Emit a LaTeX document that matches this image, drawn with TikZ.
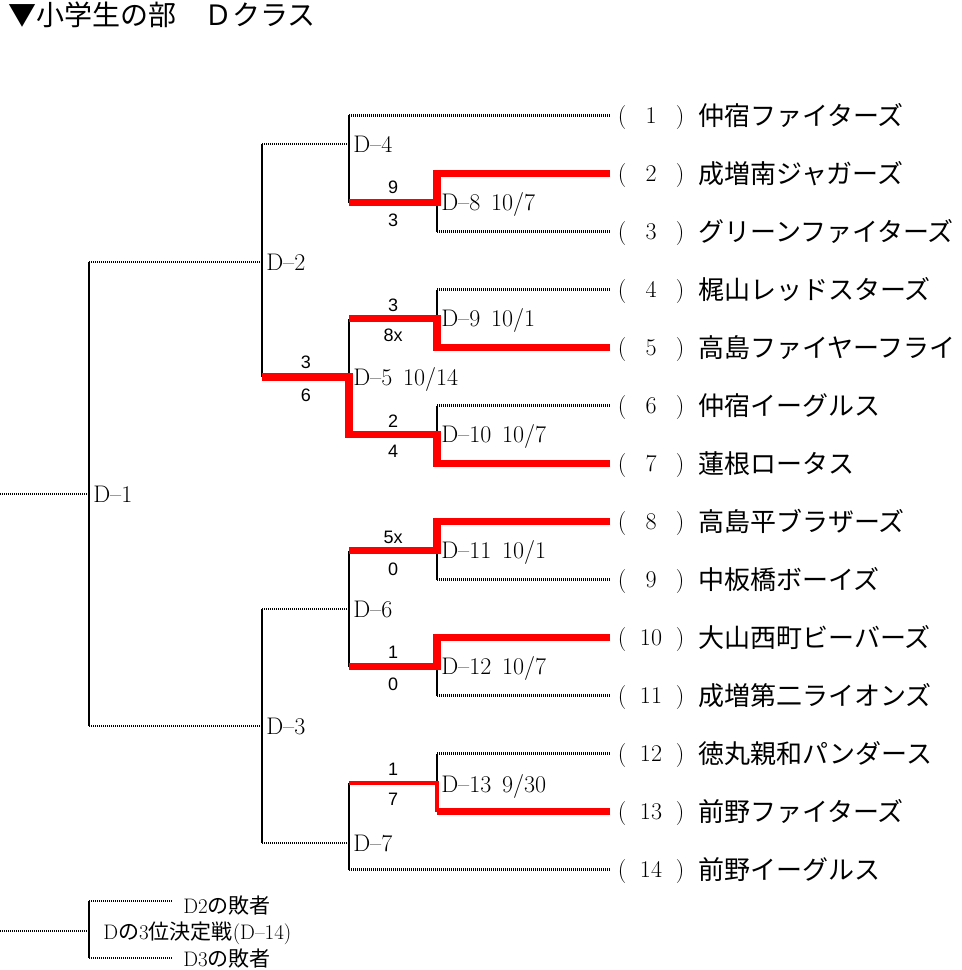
\documentclass[tikz,border=0pt]{standalone}
\usepackage{fontspec}
\newfontfamily\jp{Noto Sans CJK JP}
\newfontfamily\scorefont{Liberation Sans}
\begin{document}
\begin{tikzpicture}[x=0.75pt,y=-0.75pt,
  dots/.style={line width=1.6pt, dash pattern=on 1pt off 0.5pt, black},
  bar/.style={line width=2pt, black},
  win/.style={line width=5.4pt, red, line join=miter},
  winthin/.style={line width=3pt, red, line join=miter},
  dlab/.style={anchor=base west, yshift=-6.1pt, font=\fontsize{18}{20}\selectfont, inner sep=0pt},
  score/.style={font=\scorefont\fontsize{13.5}{15}\selectfont, inner sep=0pt},
  tname/.style={anchor=base west, yshift=-7.4pt, font=\jp\fontsize{19.5}{22}\selectfont, inner sep=0pt},
  tnum/.style={anchor=base, yshift=-5.9pt, font=\fontsize{18}{20}\selectfont, inner sep=0pt},
  small/.style={anchor=base west, yshift=-6pt, font=\fontsize{15.75}{18}\selectfont, inner sep=0pt},
]
\useasboundingbox (0,0) rectangle (961,970);

% title
\node[anchor=base west, yshift=-8pt, font=\jp\fontsize{21}{24}\selectfont, inner sep=0pt] (title) at (8,15) {▼小学生の部　Ｄクラス};

% team rows
\foreach \i/\nm in {1/仲宿ファイターズ, 2/成増南ジャガーズ, 3/グリーンファイターズ, 4/梶山レッドスターズ, 5/高島ファイヤーフライ, 6/仲宿イーグルス, 7/蓮根ロータス, 8/高島平ブラザーズ, 9/中板橋ボーイズ, 10/大山西町ビーバーズ, 11/成増第二ライオンズ, 12/徳丸親和パンダース, 13/前野ファイターズ, 14/前野イーグルス} {
  \pgfmathsetmacro{\yy}{57.5+58*\i}
  \coordinate (t\i) at (610,\yy);
  \coordinate (s\i) at (437,\yy);
  \node[tnum] (p\i) at (622,\yy) {(};
  \node[tnum] (n\i) at (651,\yy) {\i};
  \node[tnum] (q\i) at (680,\yy) {)};
  \node[tname] (name\i) at (698,\yy) {\nm};
}
\coordinate (s1) at (349,115.5);
\coordinate (s14) at (349,869.5);

% round-2 junctions
\foreach \k/\yy in {8/202.5, 9/318.5, 10/434.5, 11/550.5, 12/666.5, 13/782.5} {
  \coordinate (m\k) at (437,\yy);
  \coordinate (l\k) at (349,\yy);
}
% round-3 and later junctions
\coordinate (j4) at (349,144);   \coordinate (k4) at (262,144);
\coordinate (j5) at (349,377);   \coordinate (k5) at (262,377);
\coordinate (j6) at (349,609);   \coordinate (k6) at (262,609);
\coordinate (j7) at (349,843);   \coordinate (k7) at (262,843);
\coordinate (j2) at (262,262);   \coordinate (k2) at (89,262);
\coordinate (j3) at (262,726);   \coordinate (k3) at (89,726);
\coordinate (j1) at (89,494);    \coordinate (e1) at (0,494);

% dotted lines
\foreach \i in {1,3,4,6,9,11,12,14} { \draw[dots] (s\i) -- (t\i); }
\draw[dots] (j4) -- (k4);
\draw[dots] (j6) -- (k6);
\draw[dots] (j7) -- (k7);
\draw[dots] (j2) -- (k2);
\draw[dots] (j3) -- (k3);
\draw[dots] (j1) -- (e1);

% black verticals
\draw[bar] (s1) -- (l8);
\draw[bar] (m8) -- (s3);
\draw[bar] (s4) -- (m9);
\draw[bar] (l9) -- (j5);
\draw[bar] (s6) -- (m10);
\draw[bar] (m11) -- (s9);
\draw[bar] (l11) -- (l12);
\draw[bar] (m12) -- (s11);
\draw[bar] (s12) -- (m13);
\draw[bar] (l13) -- (s14);
\draw[bar] (k4) -- (k5);
\draw[bar] (k6) -- (k7);
\draw[bar] (k2) -- (k3);

% winners
\draw[win] (t2) -- (s2) -- (m8) -- (l8);
\draw[win] (t5) -- (s5) -- (m9) -- (l9);
\draw[win] (t7) -- (s7) -- (m10) -- (l10) -- (j5) -- (k5);
\draw[win] (t8) -- (s8) -- (m11) -- (l11);
\draw[win] (t10) -- (s10) -- (m12) -- (l12);
\draw[win] (t13) -- (s13);
\draw[winthin] (s13) -- (m13) -- (l13);

% match labels
\node[dlab] (d4) at (353,144) {D–4};
\node[dlab] (d8) at (441,202.5) {D–8\hspace{0.45em}10/7};
\node[dlab] (d2) at (266,262) {D–2};
\node[dlab] (d9) at (441,318.5) {D–9\hspace{0.45em}10/1};
\node[dlab] (d5) at (353,377) {D–5\hspace{0.45em}10/14};
\node[dlab] (d10) at (441,434.5) {D–10\hspace{0.45em}10/7};
\node[dlab] (d1) at (93,494) {D–1};
\node[dlab] (d11) at (441,550.5) {D–11\hspace{0.45em}10/1};
\node[dlab] (d6) at (353,609) {D–6};
\node[dlab] (d12) at (441,666.5) {D–12\hspace{0.45em}10/7};
\node[dlab] (d3) at (266,726) {D–3};
\node[dlab] (d13) at (441,784) {D–13\hspace{0.45em}9/30};
\node[dlab] (d7) at (353,843) {D–7};

% scores
\node[score] (a8) at (393,187) {9};
\node[score] (b8) at (393,220) {3};
\node[score] (a9) at (393,305) {3};
\node[score] (b9) at (393,335) {8x};
\node[score] (a5) at (306,362) {3};
\node[score] (b5) at (306,395) {6};
\node[score] (a10) at (393,421) {2};
\node[score] (b10) at (393,451) {4};
\node[score] (a11) at (393,537) {5x};
\node[score] (b11) at (393,569) {0};
\node[score] (a12) at (393,652) {1};
\node[score] (b12) at (393,684) {0};
\node[score] (a13) at (393,769) {1};
\node[score] (b13) at (393,799) {7};

% third place
\coordinate (c1) at (89,901);
\coordinate (c2) at (89,958);
\coordinate (c3) at (173,901);
\coordinate (c4) at (173,958);
\coordinate (c5) at (0,931);
\coordinate (c6) at (89,931);
\draw[dots] (c1) -- (c3);
\draw[dots] (c2) -- (c4);
\draw[dots] (c5) -- (c6);
\draw[bar] (c1) -- (c2);
\node[small] (x1) at (183,905) {D2{\jp の敗者}};
\node[small] (x2) at (103,931) {D{\jp の}3{\jp 位決定戦}(D–14)};
\node[small] (x3) at (183,958.5) {D3{\jp の敗者}};
\end{tikzpicture}
\end{document}
